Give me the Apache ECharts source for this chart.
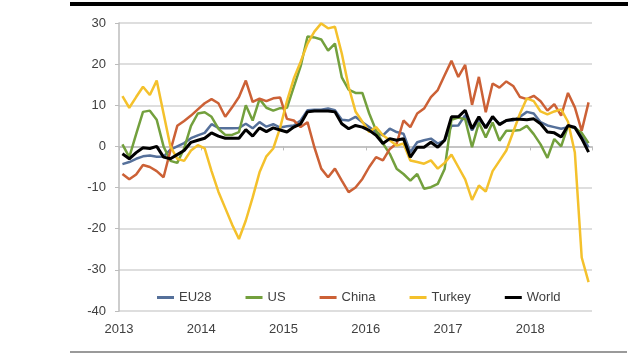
<!DOCTYPE html>
<html>
<head>
<meta charset="utf-8">
<script src="https://cdn.jsdelivr.net/npm/echarts@6/dist/echarts.min.js"></script>
<style>
html,body{margin:0;padding:0;background:#fff;}
#chart{width:640px;height:360px;}
</style>
</head>
<body>
<div id="chart"></div>
<script>
// Monthly values, Jan 2013 .. Sep 2018
var years = ['2013', '2014', '2015', '2016', '2017', '2018'];
var seriesNames = ['EU28', 'US', 'China', 'Turkey', 'World'];

var eu28 = [
  -4.3, -3.8, -3, -2.4, -2.2, -2.5, -2.5, -0.8, 0, 0.8, 2, 2.7,
  3.3, 5.4, 4.5, 4.4, 4.4, 4.5, 5.5, 4.4, 5.9, 4.8, 5.4, 4.6,
  4.9, 5.1, 6.3, 8.8, 8.9, 8.9, 9.2, 8.8, 6.5, 6.3, 7.2, 5.9,
  4.7, 3.5, 2.7, 4.3, 3.5, 3.1, -1.4, 1, 1.5, 1.9, 0.7, 1.5,
  5, 5.1, 7.6, 3.9, 6.5, 4.9, 7, 5.5, 6.3, 6.3, 7.2, 8.4,
  8, 5.9, 5.1, 4.7, 4.3, 4.7, 4.7, 2.7, -0.2
];
var us = [
  0.5, -2.6, 3, 8.4, 8.7, 6.5, 0, -3.5, -4, -0.5, 5, 8,
  8.3, 7.2, 4.3, 2.8, 2.8, 3.5, 10, 6.3, 11.5, 9.4, 8.7, 9.3,
  9.4, 14.5, 19.5, 26.7, 26.5, 26, 23.3, 25, 16.8, 13.8, 13, 13,
  8, 3.9, 0.7, -1.8, -5.4, -6.7, -8.3, -6.7, -10.3, -9.9, -9.1, -5.5,
  6.5, 7, 6.6, -0.2, 5.8, 2.2, 5.8, 1.4, 3.8, 3.8, 4, 5,
  3, 0.5, -2.8, 1.8, 0, 5, 4.5, 3.3, 0.8
];
var china = [
  -6.7, -8, -6.8, -4.5, -5, -6, -7.5, -1, 5, 6.2, 7.5, 9,
  10.5, 11.5, 10.5, 7.2, 9.5, 12, 16, 10.8, 11.6, 11, 11.7, 11.9,
  6.7, 6.3, 4.7, 5.9, -0.2, -5.4, -7.5, -5.4, -8.3, -11.1, -10, -7.9,
  -5, -2.6, -3.4, -0.6, 0.7, 6.3, 4.7, 8, 9.2, 12, 13.7, 17.3,
  20.8, 16.9, 19.8, 10.1, 16.9, 8.3, 15.3, 14.3, 15.8, 14.7, 12, 11.5,
  12.3, 11, 8.7, 10.3, 7.5, 13, 9.5, 3.8, 10.7
];
var turkey = [
  12.2, 9.4, 12, 14.5, 12.5, 16, 8, 0, -3, -3.5, -1, 0.3,
  -0.5, -6, -11, -15, -19, -22.5, -18, -12.4, -6.3, -2.4, -0.5, 4.5,
  11, 16.5, 20.6, 25, 27.9, 29.9, 28.7, 29.1, 22.6, 14.5, 8.5, 6,
  3.5, 4.7, 2.7, 1.5, 0.2, 0.7, -3.4, -3.8, -4.2, -3.4, -5.4, -4,
  -2, -5, -8, -13, -9.5, -11, -6, -3.5, -1, 3.5, 8, 11.7,
  11, 8.5, 7.8, 8.5, 9, 6, -1.5, -27, -33
];
var world = [
  -1.8, -3, -1.5, -0.3, -0.5, 0, -2.6, -3, -2, -1, 1, 1.5,
  2, 3.3, 2.5, 2, 2, 2, 4.1, 2.5, 4.5, 3.6, 4.5, 4,
  3.5, 4.7, 5.5, 8.4, 8.6, 8.6, 8.6, 8.4, 5.5, 4.3, 5.1, 4.7,
  3.9, 2.7, 0.7, 1.9, 1.5, 1.9, -2.6, -0.2, -0.2, 1, -0.2, 1.5,
  7.2, 7.2, 8.8, 4.3, 7.2, 4.5, 7.3, 5.3, 6.3, 6.6, 6.6, 6.5,
  6.7, 5.5, 3.5, 3.3, 2.3, 5.1, 4.6, 1.9, -1.4
];

var colors = ['#55709a', '#73a03d', '#cc6136', '#f4c12c', '#000000'];
var widths = [2.5, 2.5, 2.5, 2.5, 3];

function toPoints(arr) {
  // each monthly value sits at the middle of its month
  return arr.map(function (v, i) { return [i + 0.5, v]; });
}

var allData = [eu28, us, china, turkey, world];
var textColor = '#404040';
var font = 'Liberation Sans';

var chart = echarts.init(document.getElementById('chart'), null, {renderer: 'canvas'});
chart.setOption({
  animation: false,
  backgroundColor: '#ffffff',
  grid: {left: 119, right: 48, top: 23, bottom: 49, containLabel: false},
  legend: {
    data: seriesNames,
    left: 152,
    top: 286,
    itemGap: 34,
    itemWidth: 17,
    itemHeight: 3,
    icon: 'rect',
    textStyle: {color: textColor, fontSize: 13, fontFamily: font}
  },
  xAxis: {
    type: 'value',
    min: 0,
    max: 69,
    interval: 12,
    axisLine: {show: true, lineStyle: {color: '#bcbcbc', width: 1.5}},
    axisTick: {show: true, length: 4, lineStyle: {color: '#bcbcbc'}},
    splitLine: {show: false},
    axisLabel: {
      color: textColor, fontSize: 13, fontFamily: font, margin: 12,
      formatter: function (v) {
        return (v % 12 === 0) ? years[v / 12] : '';
      }
    }
  },
  yAxis: {
    type: 'value',
    min: -40,
    max: 30,
    interval: 10,
    axisLine: {show: true, lineStyle: {color: '#bcbcbc', width: 1.5}},
    axisTick: {show: true, length: 4, lineStyle: {color: '#bcbcbc'}},
    splitLine: {show: true, lineStyle: {color: '#d3d3d3', width: 1.5}},
    axisLabel: {color: textColor, fontSize: 13, fontFamily: font, margin: 13}
  },
  graphic: [
    {type: 'rect', left: 70, top: 2, shape: {width: 558, height: 4}, style: {fill: '#000'}},
    {type: 'rect', left: 70, top: 351, shape: {width: 557, height: 2}, style: {fill: '#9a9a9a'}}
  ],
  series: seriesNames.map(function (name, k) {
    return {
      name: name,
      type: 'line',
      data: toPoints(allData[k]),
      symbol: 'none',
      color: colors[k],
      lineStyle: {color: colors[k], width: widths[k]},
      z: 2 + k
    };
  })
});
</script>
</body>
</html>
